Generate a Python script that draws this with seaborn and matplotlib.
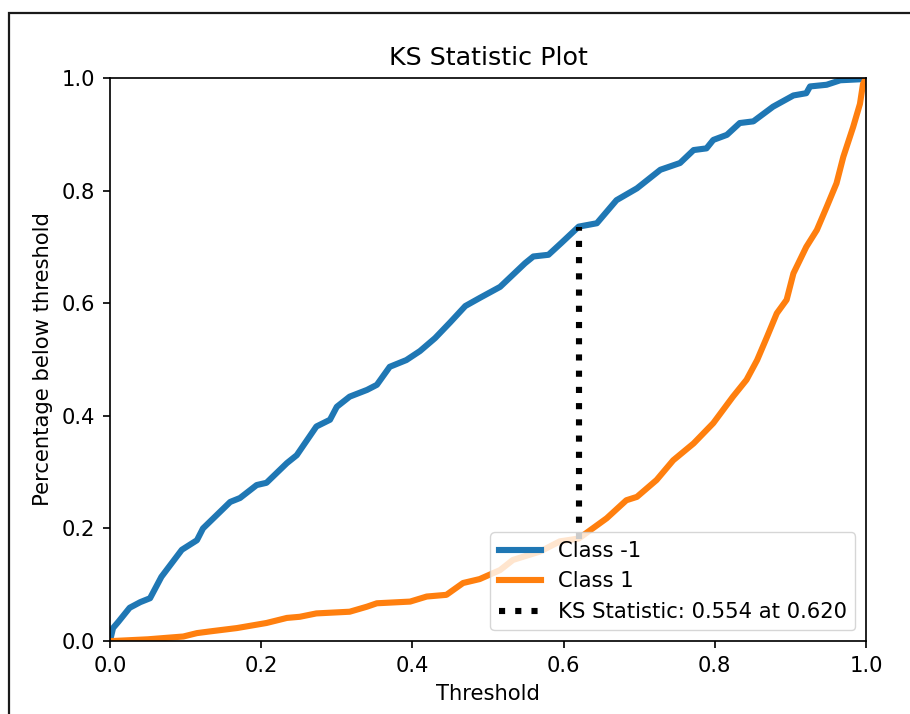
import matplotlib
matplotlib.use("Agg")
import matplotlib.pyplot as plt
from matplotlib.patches import Rectangle
from matplotlib.lines import Line2D
import numpy as np
import pandas as pd
import seaborn as sns

# Cumulative share of each class scored below a threshold
thr_neg = [0.0, 0.004, 0.011, 0.026, 0.040, 0.053, 0.068, 0.095, 0.115, 0.123,
           0.159, 0.172, 0.194, 0.207, 0.234, 0.247, 0.273, 0.291, 0.300, 0.317,
           0.340, 0.353, 0.370, 0.392, 0.410, 0.430, 0.450, 0.470, 0.490, 0.516,
           0.549, 0.560, 0.580, 0.597, 0.620, 0.644, 0.670, 0.697, 0.728, 0.754,
           0.772, 0.789, 0.798, 0.816, 0.833, 0.851, 0.877, 0.904, 0.921, 0.926,
           0.948, 0.966, 0.996, 1.0]
pct_neg = [0.0, 0.023, 0.034, 0.059, 0.069, 0.076, 0.114, 0.162, 0.179, 0.200,
           0.247, 0.254, 0.277, 0.281, 0.316, 0.330, 0.381, 0.393, 0.416, 0.434,
           0.446, 0.455, 0.487, 0.499, 0.515, 0.538, 0.566, 0.595, 0.610, 0.629,
           0.671, 0.683, 0.686, 0.707, 0.736, 0.742, 0.783, 0.804, 0.837, 0.849,
           0.872, 0.875, 0.890, 0.899, 0.920, 0.923, 0.949, 0.969, 0.973, 0.985,
           0.988, 0.996, 0.998, 1.0]

thr_pos = [0.0, 0.004, 0.050, 0.097, 0.115, 0.132, 0.168, 0.207, 0.234, 0.251,
           0.273, 0.317, 0.340, 0.353, 0.397, 0.419, 0.445, 0.467, 0.489, 0.516,
           0.533, 0.569, 0.595, 0.620, 0.657, 0.683, 0.697, 0.723, 0.745, 0.772,
           0.798, 0.824, 0.842, 0.856, 0.869, 0.882, 0.895, 0.904, 0.921, 0.935,
           0.948, 0.961, 0.970, 0.983, 0.992, 0.996, 1.0]
pct_pos = [0.0, 0.0, 0.003, 0.008, 0.014, 0.017, 0.023, 0.032, 0.041, 0.043,
           0.049, 0.052, 0.061, 0.067, 0.070, 0.079, 0.082, 0.103, 0.110, 0.126,
           0.144, 0.159, 0.177, 0.182, 0.218, 0.250, 0.256, 0.286, 0.321, 0.351,
           0.387, 0.434, 0.464, 0.499, 0.540, 0.582, 0.606, 0.653, 0.700, 0.730,
           0.771, 0.813, 0.860, 0.913, 0.954, 0.989, 1.0]

class_labels = ["Class -1", "Class 1"]
ks_stat = 0.554
ks_at = 0.620
ks_low = 0.182
ks_high = 0.736

S = 1.52  # scale of the whole figure relative to default sizes

plt.rcParams.update({
    "font.family": ["DejaVu Sans"],
    "font.size": 10 * S,
    "axes.linewidth": 0.8 * S,
    "xtick.major.size": 3.5 * S,
    "ytick.major.size": 3.5 * S,
    "xtick.major.width": 0.8 * S,
    "ytick.major.width": 0.8 * S,
    "xtick.major.pad": 3.5 * S,
    "ytick.major.pad": 3.5 * S,
    "xtick.labelsize": 10 * S,
    "ytick.labelsize": 10 * S,
})

df = pd.concat([
    pd.DataFrame({"Threshold": thr_neg, "Pct": pct_neg, "cls": class_labels[0]}),
    pd.DataFrame({"Threshold": thr_pos, "Pct": pct_pos, "cls": class_labels[1]}),
], ignore_index=True)

fig = plt.figure(figsize=(9.10, 7.14), dpi=100)
ax = fig.add_axes([110 / 910, 1 - 641 / 714, 756 / 910, 563 / 714])

sns.lineplot(data=df, x="Threshold", y="Pct", hue="cls", hue_order=class_labels,
             palette=["#1f77b4", "#ff7f0e"], estimator=None, sort=False,
             linewidth=2.9 * S, ax=ax, legend=False)

ax.axvline(ks_at, ks_low, ks_high, linestyle=":", linewidth=2.9 * S, color="black")

ax.set_xlim(0.0, 1.0)
ax.set_ylim(0.0, 1.0)
ax.set_xticks(np.arange(0, 1.01, 0.2))
ax.set_yticks(np.arange(0, 1.01, 0.2))
ax.set_title("KS Statistic Plot", fontsize=12 * S, pad=6 * S)
ax.set_xlabel("Threshold", fontsize=10 * S, labelpad=4 * S)
ax.set_ylabel("Percentage below threshold", fontsize=10 * S, labelpad=4 * S)

handles = [
    Line2D([], [], color="#1f77b4", linewidth=2.9 * S),
    Line2D([], [], color="#ff7f0e", linewidth=2.9 * S),
    Line2D([], [], color="black", linewidth=2.9 * S, linestyle=":"),
]
labels = class_labels + [f"KS Statistic: {ks_stat:.3f} at {ks_at:.3f}"]
ax.legend(handles, labels, loc="lower right", fontsize=10 * S,
          borderaxespad=0.5, framealpha=0.8)

# Outer frame around the figure
fig.patches.append(Rectangle((8.5 / 910, -0.2), 1.5, 1 - 13.5 / 714 + 0.2,
                             transform=fig.transFigure, fill=False,
                             edgecolor="#1a1a1a", linewidth=1.6, clip_on=False))

fig.savefig("out.png", dpi=100)
